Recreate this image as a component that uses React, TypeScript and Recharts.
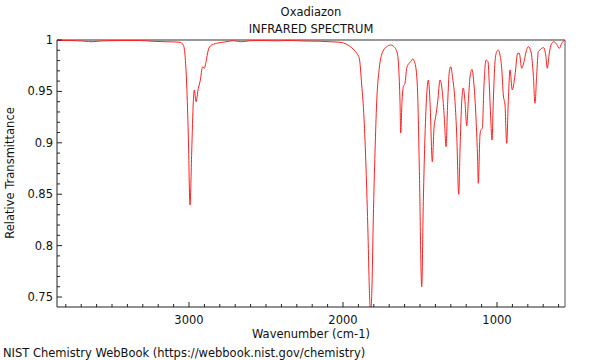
import React from "react";
import { LineChart, Line, XAxis, YAxis, ReferenceLine } from "recharts";

const wavenumbers = [
  3857.2, 3772.8, 3675.4, 3629.9, 3577.9, 3448.1, 3318.2, 3240.3, 3155.9, 3091.0,
  3058.5, 3037.0, 3026.0, 3015.0, 3004.6, 2993.5, 2982.5, 2972.1, 2965.6, 2954.5,
  2939.6, 2928.6, 2911.0, 2900.6, 2889.6, 2874.7, 2859.1, 2820.1, 2766.2, 2712.3,
  2657.8, 2603.9, 2539.0, 2441.6, 2344.2, 2246.8, 2149.4, 2084.5, 2019.5, 1976.0,
  1943.5, 1911.1, 1894.2, 1878.6, 1863.6, 1850.6, 1837.6, 1829.2, 1820.1, 1811.7,
  1803.2, 1792.2, 1781.2, 1764.3, 1742.2, 1716.2, 1690.3, 1668.8, 1647.4, 1638.3,
  1629.9, 1625.3, 1616.9, 1608.5, 1597.5, 1586.4, 1576.0, 1560.4, 1547.4, 1532.5,
  1517.5, 1504.5, 1488.9, 1478.5, 1467.5, 1456.5, 1446.1, 1435.1, 1420.1, 1409.1,
  1398.1, 1385.1, 1370.0, 1355.1, 1342.1, 1331.1, 1320.1, 1309.7, 1300.6, 1287.6,
  1272.6, 1261.6, 1248.6, 1240.2, 1229.2, 1218.8, 1207.8, 1196.7, 1186.3, 1175.3,
  1162.4, 1149.4, 1136.4, 1125.4, 1121.5, 1110.5, 1104.0, 1095.5, 1084.5, 1071.5,
  1058.5, 1050.0, 1040.9, 1032.5, 1024.1, 1013.0, 1002.0, 991.6, 980.6, 969.5,
  959.1, 948.1, 937.1, 926.7, 915.7, 900.7, 883.2, 865.6, 855.3, 839.7,
  824.7, 813.7, 796.8, 779.3, 764.3, 753.3, 742.3, 731.9, 720.9, 709.8,
  696.8, 683.8, 673.4, 662.4, 644.9, 630.0, 612.4, 595.6, 580.0, 558.5,
];

const transmittance = [
  0.9995, 0.9995, 0.9988, 0.9983, 0.999, 0.9995, 0.9995, 0.9988, 0.9983, 0.9981,
  0.9978, 0.9951, 0.9854, 0.9562, 0.9076, 0.8395, 0.8911, 0.94, 0.9514, 0.94,
  0.953, 0.9594, 0.974, 0.9725, 0.9789, 0.9903, 0.9945, 0.9968, 0.9981, 0.9993,
  0.9983, 0.9993, 0.9995, 0.9992, 0.9995, 0.999, 0.9988, 0.9983, 0.9978, 0.9958,
  0.9925, 0.9871, 0.9822, 0.9562, 0.9241, 0.8755, 0.8103, 0.7587, 0.733, 0.7617,
  0.8268, 0.891, 0.9397, 0.9728, 0.9886, 0.9935, 0.9951, 0.9935, 0.9871, 0.9728,
  0.94, 0.9095, 0.94, 0.9546, 0.9579, 0.9725, 0.9764, 0.9789, 0.9815, 0.9773,
  0.9562, 0.8755, 0.76, 0.8427, 0.9076, 0.9465, 0.9611, 0.94, 0.8816, 0.9144,
  0.9254, 0.94, 0.9611, 0.9497, 0.9241, 0.8962, 0.94, 0.9692, 0.974, 0.9627,
  0.94, 0.9076, 0.8499, 0.893, 0.94, 0.9533, 0.94, 0.9163, 0.94, 0.964,
  0.9715, 0.9562, 0.9241, 0.8816, 0.8606, 0.9076, 0.9125, 0.9141, 0.9562, 0.9805,
  0.9789, 0.9562, 0.9241, 0.9027, 0.94, 0.9789, 0.9886, 0.9903, 0.9854, 0.9725,
  0.9465, 0.9368, 0.8995, 0.94, 0.9708, 0.9514, 0.966, 0.9871, 0.9871, 0.9725,
  0.9789, 0.9871, 0.9935, 0.9886, 0.966, 0.9384, 0.966, 0.9886, 0.9903, 0.9919,
  0.9925, 0.9854, 0.9725, 0.9854, 0.9968, 0.9983, 0.9958, 0.9919, 0.9968, 1.0,
];

const xMajorTicks = [1000, 2000, 3000];
const yMajorTicks = [0.75, 0.8, 0.85, 0.9, 0.95, 1];

const xTicks: number[] = [];
for (let v = 600; v <= 3800; v += 100) xTicks.push(v);
const yTicks: number[] = [];
for (let i = 75; i <= 100; i++) yTicks.push(i / 100);

const data = wavenumbers.map((w, i) => ({ w, t: transmittance[i] }));

const FONT = "'DejaVu Sans', sans-serif";
const FS = 11.5;
const AXIS = "#222";

const XTick = (props: any) => {
  const { x, y, payload } = props;
  const v = payload.value;
  const major = xMajorTicks.includes(v);
  return (
    <g>
      <line x1={x} y1={y} x2={x} y2={y - (major ? 5 : 3)} stroke={AXIS} strokeWidth={1} />
      {major && (
        <text x={x} y={y + 17} textAnchor="middle" fontSize={FS} fill="#111" fontFamily={FONT}>
          {v}
        </text>
      )}
    </g>
  );
};

const YTick = (props: any) => {
  const { x, y, payload } = props;
  const v = payload.value;
  const major = yMajorTicks.some((m) => Math.abs(m - v) < 1e-6);
  return (
    <g>
      <line x1={x} y1={y} x2={x + (major ? 5 : 3)} y2={y} stroke={AXIS} strokeWidth={1} />
      {major && (
        <text x={x - 4} y={y + 4} textAnchor="end" fontSize={FS} fill="#111" fontFamily={FONT}>
          {String(Number(v.toFixed(2)))}
        </text>
      )}
    </g>
  );
};

export default function App() {
  return (
    <div style={{ position: "absolute", left: 0, top: 0, width: 600, height: 360, background: "#fff" }}>
      <LineChart
        width={600}
        height={360}
        data={data}
        margin={{ top: 40, right: 0, bottom: 0, left: 0 }}
      >
        <XAxis
          dataKey="w"
          type="number"
          reversed
          domain={[558.5, 3857.2]}
          allowDataOverflow
          ticks={xTicks}
          interval={0}
          tick={<XTick />}
          tickLine={false}
          tickSize={0}
          tickMargin={0}
          height={53}
          axisLine={{ stroke: AXIS }}
        />
        <YAxis
          yAxisId="l"
          type="number"
          domain={[0.7403, 1.0]}
          allowDataOverflow
          ticks={yTicks}
          interval={0}
          tick={<YTick />}
          tickLine={false}
          tickSize={0}
          tickMargin={0}
          width={57}
          axisLine={{ stroke: AXIS }}
        />
        <YAxis
          yAxisId="r"
          orientation="right"
          type="number"
          domain={[0.7403, 1.0]}
          allowDataOverflow
          tick={false}
          tickLine={false}
          width={35}
          axisLine={{ stroke: "#555" }}
        />
        <ReferenceLine yAxisId="l" y={1} stroke="#999" strokeWidth={2} />
        <Line
          yAxisId="l"
          dataKey="t"
          type="monotone"
          stroke="#ff2020"
          strokeWidth={1}
          dot={false}
          isAnimationActive={false}
        />
      </LineChart>
      <svg
        width={600}
        height={360}
        style={{ position: "absolute", left: 0, top: 0, pointerEvents: "none" }}
      >
        <g fontFamily={FONT} fontSize={FS} fill="#111">
          <text x={311} y={16} textAnchor="middle">Oxadiazon</text>
          <text x={311} y={33} textAnchor="middle">INFRARED SPECTRUM</text>
          <text x={311} y={338} textAnchor="middle">Wavenumber (cm-1)</text>
          <text x={14} y={173} textAnchor="middle" transform="rotate(-90 14 173)">
            Relative Transmittance
          </text>
          <text x={3} y={357} textAnchor="start">
            NIST Chemistry WebBook (https://webbook.nist.gov/chemistry)
          </text>
        </g>
      </svg>
    </div>
  );
}
